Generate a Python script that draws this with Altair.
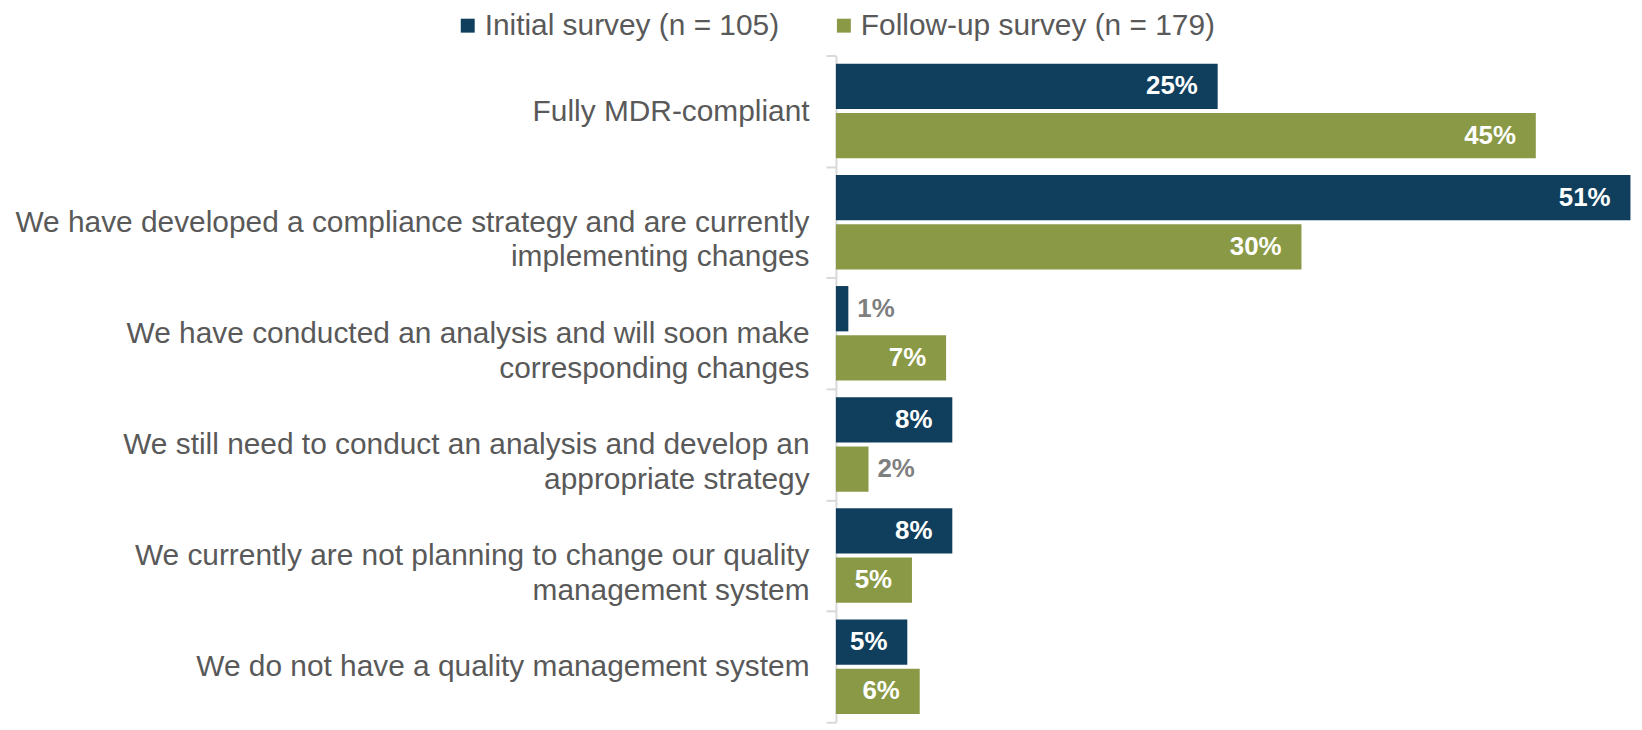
import altair as alt
import pandas as pd

categories = [
    "Fully MDR-compliant",
    "We have developed a compliance strategy and are currently\nimplementing changes",
    "We have conducted an analysis and will soon make\ncorresponding changes",
    "We still need to conduct an analysis and develop an\nappropriate strategy",
    "We currently are not planning to change our quality\nmanagement system",
    "We do not have a quality management system",
]
series = ["Initial survey (n = 105)", "Follow-up survey (n = 179)"]
initial_values = [24.6, 51.2, 0.8, 7.5, 7.5, 4.6]
followup_values = [45.1, 30.0, 7.1, 2.1, 4.9, 5.4]
initial_labels = ["25%", "51%", "1%", "8%", "8%", "5%"]
followup_labels = ["45%", "30%", "7%", "2%", "5%", "6%"]
colors = ["#103F5E", "#8A9946"]

rows = []
for s, vals, labs in [(series[0], initial_values, initial_labels),
                      (series[1], followup_values, followup_labels)]:
    for c, v, l in zip(categories, vals, labs):
        rows.append({"category": c, "series": s, "value": v, "label": l})
df = pd.DataFrame(rows)

FONT = "Liberation Sans"

y_enc = alt.Y(
    "category:N",
    sort=categories,
    title=None,
    scale=alt.Scale(paddingInner=0, paddingOuter=0),
    axis=alt.Axis(
        labelExpr="split(datum.label, '\\n')",
        labelFont=FONT,
        labelFontSize=30,
        labelColor="#595959",
        labelLineHeight=35,
        labelLimit=900,
        labelPadding=17,
        tickBand="extent",
        tickSize=10,
        tickWidth=2,
        tickColor="#D9D9D9",
        domainColor="#D9D9D9",
        domainWidth=2,
        grid=False,
    ),
)
yoff_enc = alt.YOffset(
    "series:N",
    sort=series,
    scale=alt.Scale(domain=series, paddingInner=0.08, paddingOuter=0.168),
)
x_enc = alt.X(
    "value:Q",
    scale=alt.Scale(domain=[0, 51.3], nice=False, zero=True),
    axis=None,
)

base = alt.Chart(df).encode(y=y_enc, yOffset=yoff_enc, x=x_enc)

bars = base.mark_bar(cornerRadius=0).encode(
    color=alt.Color(
        "series:N",
        sort=series,
        scale=alt.Scale(domain=series, range=colors),
        legend=alt.Legend(
            title=None,
            orient="none",
            legendX=-385,
            legendY=-45,
            direction="horizontal",
            columns=2,
            symbolType="square",
            symbolSize=196,
            symbolStrokeWidth=0,
            symbolOpacity=1,
            labelFont=FONT,
            labelFontSize=30,
            labelColor="#595959",
            labelLimit=600,
            labelOffset=2,
            columnPadding=50,
        ),
    )
)

inside = base.transform_filter("datum.value >= 3").mark_text(
    align="right", baseline="middle", dx=-20,
    font=FONT, fontSize=26, fontWeight="bold", color="#FFFFFF",
).encode(text="label:N")

outside = base.transform_filter("datum.value < 3").mark_text(
    align="left", baseline="middle", dx=9,
    font=FONT, fontSize=26, fontWeight="bold", color="#7F7F7F",
).encode(text="label:N")

chart = (
    alt.layer(bars, inside, outside)
    .properties(
        width=800,
        height=670,
        autosize=alt.AutoSizeParams(type="none"),
        padding={"left": 832, "top": 46, "right": 2, "bottom": 0},
    )
    .configure(font=FONT)
    .configure_view(stroke=None)
)

chart.save("out.html", embed_options={"renderer": "svg", "actions": False})
